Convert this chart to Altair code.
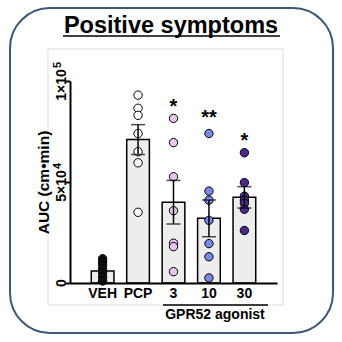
import altair as alt
import pandas as pd

# ---- data ----
groups = ["VEH", "PCP", "3", "10", "30"]
means = [6000, 71000, 40000, 32000, 42400]
sems = [1500, 7400, 10800, 9100, 5300]
fills = ["#111111", "#FFFFFF", "#E8C6EC", "#7A89E2", "#4B2A8C"]

veh_pts = [12000, 10500, 9000, 7000, 5000, 3000, 1000]
pcp_pts = [93000, 86500, 83000, 74000, 65000, 59500, 35000]
d3_pts = [81500, 69500, 52600, 35800, 19700, 18000, 5600]
d10_pts = [74000, 45500, 41000, 31000, 19500, 13000, 2500]
d30_pts = [64500, 49700, 43000, 41000, 39500, 36500, 26000]

star_groups = ["3", "10", "30"]
star_text = ["*", "**", "*"]
star_y = [84000, 78500, 67300]

y_ticks = [0, 50000, 100000]
y_tick_base = ["0", "5×10", "1×10"]
y_tick_exp = ["", "4", "5"]

# ---- tables ----
bars = pd.DataFrame({"g": groups, "mean": means, "sem": sems, "fill": fills})
bars["lo"] = bars["mean"] - bars["sem"]
bars["hi"] = bars["mean"] + bars["sem"]
pts_rows = []
for g, arr, f in zip(groups, [veh_pts, pcp_pts, d3_pts, d10_pts, d30_pts], fills):
    for v in arr:
        pts_rows.append({"g": g, "v": v, "fill": f})
pts = pd.DataFrame(pts_rows)
stars = pd.DataFrame({"g": star_groups, "t": star_text, "y": star_y})
ylab = pd.DataFrame({"v": y_ticks, "base": y_tick_base, "exp": y_tick_exp})
one = pd.DataFrame({"a": [0]})

W, H = 207, 202
xscale = alt.Scale(domain=groups, paddingInner=0.36, paddingOuter=0.6)
yscale = alt.Scale(domain=[0, 100000], nice=False)

xenc = alt.X("g:N", scale=xscale, sort=groups,
             axis=alt.Axis(title=None, labelAngle=0, ticks=False, domainWidth=2,
                           domainColor="black", labelFontSize=14, labelFontWeight="bold",
                           labelColor="black", labelPadding=3, zindex=1))
yaxis = alt.Axis(values=y_ticks, title="AUC (cm•min)", titleFontSize=15.5,
                 titleFontWeight="bold", titleColor="black", titlePadding=13,
                 labels=False, tickSize=5, tickWidth=2,
                 tickColor="black", domainWidth=2, domainColor="black", grid=False,
                 zindex=1)

border = alt.Chart(one).mark_rect(cornerRadius=40, fill="white", stroke="#3D5775",
                                  strokeWidth=2).encode(
    x=alt.value(-60), x2=alt.value(263), y=alt.value(-73), y2=alt.value(252))
frame = alt.Chart(one).mark_rect(fill="white", stroke="#DCDCDC", strokeWidth=1).encode(
    x=alt.value(-22), x2=alt.value(213), y=alt.value(-32), y2=alt.value(224))

bar = alt.Chart(bars).mark_bar(fill="#EDEDED", stroke="black", strokeWidth=1.5).encode(
    x=xenc, y=alt.Y("mean:Q", scale=yscale, axis=yaxis))
dots = alt.Chart(pts).mark_point(filled=True, size=70, stroke="black", strokeWidth=1,
                                 opacity=1, shape="circle").encode(
    x=alt.X("g:N", scale=xscale, sort=groups), y=alt.Y("v:Q", scale=yscale),
    fill=alt.Fill("fill:N", scale=None))
err = alt.Chart(bars[bars.g != "VEH"]).mark_rule(color="black", strokeWidth=1.5).encode(
    x=alt.X("g:N", scale=xscale, sort=groups), y=alt.Y("lo:Q", scale=yscale), y2="hi:Q")
cap_hi = alt.Chart(bars[bars.g != "VEH"]).mark_tick(color="black", size=14, thickness=1.5,
                                                   orient="horizontal").encode(
    x=alt.X("g:N", scale=xscale, sort=groups), y=alt.Y("hi:Q", scale=yscale))
cap_lo = alt.Chart(bars[bars.g != "VEH"]).mark_tick(color="black", size=14, thickness=1.5,
                                                   orient="horizontal").encode(
    x=alt.X("g:N", scale=xscale, sort=groups), y=alt.Y("lo:Q", scale=yscale))
star = alt.Chart(stars).mark_text(fontSize=20, fontWeight="bold", color="black",
                                  baseline="alphabetic").encode(
    x=alt.X("g:N", scale=xscale, sort=groups), y=alt.Y("y:Q", scale=yscale), text="t:N")

# rotated y tick labels with real superscripts
ylab_zero = alt.Chart(ylab).transform_filter("datum.exp == ''").mark_text(
    fontSize=14, fontWeight="bold", color="black", angle=270, align="center",
    baseline="alphabetic").encode(
    y=alt.Y("v:Q", scale=yscale), x=alt.value(-4), text="base:N")
ylab_base = alt.Chart(ylab).transform_filter("datum.exp != ''").mark_text(
    fontSize=14, fontWeight="bold", color="black", angle=270, align="center",
    baseline="alphabetic", dx=-4).encode(
    y=alt.Y("v:Q", scale=yscale), x=alt.value(-4), text="base:N")
ylab_exp = alt.Chart(ylab).transform_filter("datum.exp != ''").mark_text(
    fontSize=11, fontWeight="bold", color="black", angle=270, align="left",
    baseline="alphabetic", dx=13, dy=-5).encode(
    y=alt.Y("v:Q", scale=yscale), x=alt.value(-4), text="exp:N")

title = alt.Chart(one).mark_text(text="Positive symptoms", fontSize=23.5, fontWeight="bold",
                                 color="black", baseline="alphabetic", align="center").encode(
    x=alt.value(101), y=alt.value(-48))
underline = alt.Chart(one).mark_rule(color="black", strokeWidth=1.5).encode(
    x=alt.value(-7), x2=alt.value(210), y=alt.value(-45))
grp_line = alt.Chart(one).mark_rule(color="black", strokeWidth=1.5).encode(
    x=alt.value(93), x2=alt.value(198), y=alt.value(224))
grp_text = alt.Chart(one).mark_text(text="GPR52 agonist", fontSize=14, fontWeight="bold",
                                    color="black", baseline="middle").encode(
    x=alt.value(145), y=alt.value(234))

chart = alt.layer(border, frame, bar, dots, err, cap_hi, cap_lo, star, ylab_zero, ylab_base,
                  ylab_exp, title, underline, grp_line, grp_text).properties(
    width=W, height=H,
    autosize=alt.AutoSizeParams(type="none"),
    padding={"left": 70, "top": 81, "right": 65, "bottom": 59},
    background="white",
).configure_view(stroke=None).configure(font="Liberation Sans")

chart.save("out.html", embed_options={"renderer": "svg", "actions": False})
